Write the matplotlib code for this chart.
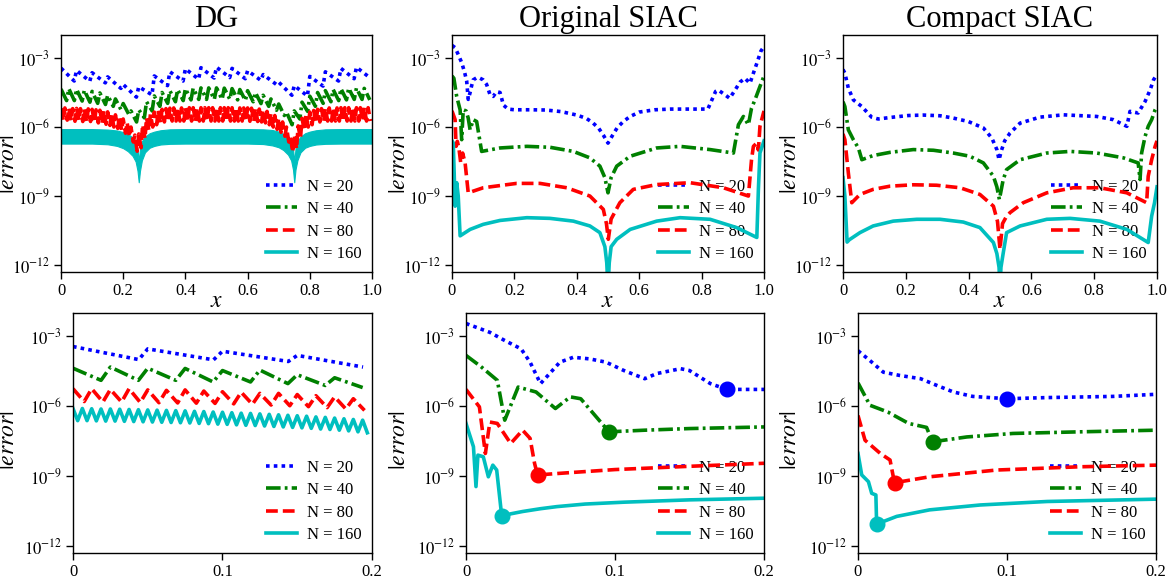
import matplotlib.pyplot as plt
import numpy as np
from matplotlib.ticker import NullLocator

plt.rcParams['font.family'] = ['Liberation Serif', 'DejaVu Serif']
plt.rcParams['mathtext.fontset'] = 'stix'
plt.rcParams['lines.scale_dashes'] = False

titles = ['DG', 'Original SIAC', 'Compact SIAC']
labels = ['N = 20', 'N = 40', 'N = 80', 'N = 160']
colors = ['b', 'g', 'r', 'c']
dashes = [(2.6, 3.0), (10.5, 3.0, 2.0, 3.0), (8.5, 3.6), None]
ytick_vals = [1e-3, 1e-6, 1e-9, 1e-12]
ytick_labels = [r'$10^{-3}$', r'$10^{-6}$', r'$10^{-9}$', r'$10^{-12}$']
top_ticks = [0, 0.2, 0.4, 0.6, 0.8, 1.0]
top_ticklabels = ['0', '0.2', '0.4', '0.6', '0.8', '1.0']
bot_ticks = [0, 0.1, 0.2]
bot_ticklabels = ['0', '0.1', '0.2']

# ---- DG, full domain: per-cell high / low values, log10|error| ----
dg20_hi = [-3.44, -3.54, -3.64, -3.82, -4.15, -4.25, -3.78, -3.6, -3.47, -3.42,
           -3.4, -3.45, -3.55, -3.72, -4.05, -4.2, -3.8, -3.6, -3.45, -3.4]
dg20_lo = [-4.0, -4.01, -4.08, -4.32, -4.7, -4.6, -4.2, -4.0, -3.92, -3.87,
           -3.85, -3.9, -3.97, -4.15, -4.62, -4.65, -4.22, -4.0, -3.9, -3.85]
dg40_hi = [-4.35, -4.33, -4.36, -4.4, -4.45, -4.52, -4.62, -4.78, -4.98, -5.3,
           -5.25, -4.9, -4.65, -4.5, -4.42, -4.37, -4.33, -4.31, -4.3, -4.3,
           -4.3, -4.31, -4.33, -4.37, -4.42, -4.5, -4.62, -4.78, -5.0, -5.35,
           -5.3, -4.92, -4.66, -4.5, -4.42, -4.37, -4.33, -4.31, -4.3, -4.32]
dg40_lo = [-4.85, -4.85, -4.87, -4.92, -4.97, -5.02, -5.1, -5.25, -5.45, -5.78,
           -5.6, -5.3, -5.1, -4.97, -4.9, -4.85, -4.82, -4.8, -4.8, -4.8,
           -4.8, -4.8, -4.82, -4.85, -4.9, -4.98, -5.1, -5.27, -5.5, -5.9,
           -5.65, -5.32, -5.1, -4.97, -4.9, -4.85, -4.82, -4.8, -4.8, -4.82]
dg80_hi = [-5.18, -5.17, -5.18, -5.2, -5.19, -5.2, -5.22, -5.21, -5.23, -5.25,
           -5.27, -5.3, -5.34, -5.4, -5.47, -5.55, -5.65, -5.8, -6.0, -6.35,
           -6.3, -5.9, -5.6, -5.45, -5.35, -5.28, -5.23, -5.2, -5.18, -5.17,
           -5.17, -5.17, -5.16, -5.16, -5.16, -5.16, -5.16, -5.16, -5.16, -5.16,
           -5.16, -5.16, -5.16, -5.16, -5.16, -5.16, -5.17, -5.17, -5.17, -5.18,
           -5.19, -5.22, -5.26, -5.32, -5.4, -5.5, -5.62, -5.78, -6.0, -6.4,
           -6.35, -5.95, -5.62, -5.45, -5.35, -5.28, -5.23, -5.2, -5.18, -5.17,
           -5.17, -5.17, -5.16, -5.16, -5.16, -5.16, -5.16, -5.16, -5.16, -5.16]
dg80_lo = [-5.72, -5.7, -5.73, -5.75, -5.72, -5.76, -5.78, -5.76, -5.8, -5.82,
           -5.85, -5.88, -5.93, -6.0, -6.06, -6.15, -6.27, -6.42, -6.65, -7.05,
           -6.9, -6.5, -6.15, -6.0, -5.9, -5.82, -5.78, -5.75, -5.74, -5.74,
           -5.74, -5.74, -5.74, -5.74, -5.74, -5.74, -5.74, -5.74, -5.74, -5.74,
           -5.74, -5.74, -5.74, -5.74, -5.74, -5.74, -5.74, -5.74, -5.75, -5.75,
           -5.76, -5.78, -5.82, -5.9, -6.0, -6.1, -6.23, -6.4, -6.65, -7.1,
           -6.95, -6.5, -6.15, -6.0, -5.9, -5.82, -5.78, -5.75, -5.74, -5.74,
           -5.74, -5.74, -5.74, -5.74, -5.74, -5.74, -5.74, -5.74, -5.74, -5.74]
# N = 160 is so dense it shows as a band: upper / lower envelope
dg160_x = [0, 0.1, 0.15, 0.18, 0.2, 0.215, 0.23, 0.24, 0.246, 0.25, 0.254, 0.26,
           0.27, 0.285, 0.3, 0.32, 0.35, 0.4, 0.5, 0.6, 0.65, 0.68, 0.7, 0.715,
           0.73, 0.74, 0.746, 0.75, 0.754, 0.76, 0.77, 0.785, 0.8, 0.82, 0.85, 0.9, 1.0]
dg160_hi = [-6.09, -6.09, -6.11, -6.15, -6.22, -6.3, -6.45, -6.65, -6.95, -7.5, -6.95, -6.62,
            -6.42, -6.27, -6.2, -6.14, -6.1, -6.09, -6.09, -6.09, -6.1, -6.13, -6.2, -6.3,
            -6.45, -6.65, -6.95, -7.5, -6.95, -6.62, -6.42, -6.27, -6.2, -6.14, -6.1, -6.09, -6.09]
dg160_lo = [-6.72, -6.72, -6.75, -6.82, -6.92, -7.05, -7.25, -7.5, -7.9, -8.4, -7.9, -7.45,
            -7.1, -6.9, -6.82, -6.76, -6.73, -6.72, -6.72, -6.72, -6.74, -6.8, -6.88, -7.0,
            -7.2, -7.45, -7.85, -8.4, -7.85, -7.45, -7.1, -6.9, -6.82, -6.76, -6.73, -6.72, -6.72]

# ---- DG, zoom [0, 0.2] ----
dgz20_hi = [-3.44, -3.54, -3.64, -3.82]
dgz20_lo = [-4.0, -4.01, -4.08, -4.32]
dgz40_hi = [-4.37, -4.32, -4.37, -4.38, -4.47, -4.45, -4.65, -4.78]
dgz40_lo = [-4.89, -4.89, -4.89, -4.96, -4.96, -5.03, -5.11, -5.2]
dgz80_hi = [-5.25, -5.25, -5.28, -5.25, -5.3, -5.32, -5.3, -5.35,
            -5.38, -5.4, -5.45, -5.45, -5.5, -5.55, -5.6, -5.68]
dgz80_lo = [-5.8, -5.82, -5.82, -5.84, -5.85, -5.86, -5.87, -5.88,
            -5.9, -5.92, -5.95, -5.98, -6.02, -6.06, -6.12, -6.18]
dgz160_hi = [-6.1, -6.1, -6.11, -6.12, -6.12, -6.13, -6.14, -6.15, -6.16, -6.17, -6.18,
             -6.19, -6.2, -6.22, -6.23, -6.25, -6.26, -6.28, -6.3, -6.31, -6.33, -6.35,
             -6.37, -6.39, -6.41, -6.43, -6.46, -6.48, -6.51, -6.54, -6.57, -6.6]
dgz160_lo = [-6.62, -6.62, -6.63, -6.64, -6.64, -6.65, -6.66, -6.67, -6.68, -6.69, -6.7,
             -6.71, -6.72, -6.74, -6.75, -6.77, -6.78, -6.8, -6.82, -6.83, -6.85, -6.87,
             -6.89, -6.91, -6.93, -6.95, -6.98, -7.0, -7.03, -7.06, -7.1, -7.14]

# ---- Original SIAC, full domain ----
ot20_x = [0.0, 0.01, 0.02, 0.031, 0.04, 0.047, 0.052, 0.058, 0.063, 0.068, 0.08, 0.09, 0.1,
          0.111, 0.122, 0.132, 0.143, 0.154, 0.165, 0.18, 0.2, 0.25, 0.3, 0.35, 0.4, 0.43,
          0.45, 0.47, 0.485, 0.5, 0.515, 0.53, 0.55, 0.57, 0.6, 0.65, 0.7, 0.75, 0.8, 0.82,
          0.832, 0.845, 0.853, 0.87, 0.89, 0.907, 0.923, 0.939, 0.955, 0.966, 0.977, 0.99, 1.0]
ot20_y = [-2.45, -2.55, -2.85, -3.2, -3.6, -4.0, -4.8, -4.5, -4.2, -3.95, -3.85, -3.88, -3.95,
          -4.15, -4.6, -4.67, -4.46, -4.5, -5.05, -5.22, -5.25, -5.25, -5.26, -5.33, -5.48, -5.62,
          -5.8, -6.05, -6.35, -6.7, -6.35, -6.02, -5.75, -5.55, -5.35, -5.25, -5.22, -5.22, -5.22,
          -5.22, -4.85, -4.45, -4.39, -4.55, -4.75, -4.4, -4.05, -3.88, -4.1, -3.66, -3.23, -2.7, -2.5]
ot40_x = [0.0, 0.006, 0.015, 0.026, 0.031, 0.036, 0.045, 0.052, 0.058, 0.068, 0.079, 0.095,
          0.154, 0.24, 0.314, 0.389, 0.442, 0.474, 0.49, 0.5, 0.51, 0.528, 0.571, 0.656,
          0.731, 0.827, 0.902, 0.918, 0.934, 0.95, 0.96, 0.971, 0.987, 1.0]
ot40_y = [-3.78, -3.88, -4.67, -5.25, -6.55, -5.25, -5.3, -5.61, -6.12, -5.68, -5.76, -7.06,
          -6.91, -6.84, -6.88, -7.06, -7.34, -7.7, -8.2, -8.86, -8.2, -7.7, -7.27, -6.91,
          -6.84, -6.98, -7.13, -5.9, -5.54, -5.9, -5.18, -4.82, -4.24, -3.78]
ot80_x = [0.0, 0.01, 0.013, 0.017, 0.022, 0.028, 0.034, 0.042, 0.052, 0.1, 0.207, 0.282,
          0.368, 0.442, 0.485, 0.495, 0.501, 0.51, 0.538, 0.581, 0.656, 0.763, 0.87, 0.95,
          0.96, 0.966, 0.977, 0.982, 0.987, 1.0]
ot80_y = [-5.3, -5.68, -6.84, -6.62, -6.9, -7.56, -7.13, -7.56, -8.86, -8.64, -8.45, -8.45,
          -8.64, -9.0, -9.58, -10.2, -10.88, -10.0, -9.29, -8.71, -8.5, -8.42, -8.64, -9.0,
          -7.42, -6.84, -6.69, -7.0, -5.97, -5.3]
ot160_x = [0.0, 0.004, 0.007, 0.01, 0.015, 0.02, 0.026, 0.058, 0.1, 0.154, 0.24, 0.314,
           0.389, 0.442, 0.474, 0.49, 0.496, 0.5, 0.504, 0.51, 0.528, 0.571, 0.656, 0.731,
           0.827, 0.912, 0.977, 0.982, 0.987, 1.0]
ot160_y = [-6.6, -6.69, -8.0, -9.44, -8.42, -9.0, -10.73, -10.45, -10.23, -10.06, -9.94, -9.97,
           -10.09, -10.3, -10.59, -11.2, -11.9, -13.0, -11.9, -11.2, -10.88, -10.45, -10.09, -9.94,
           -10.01, -10.37, -10.8, -8.71, -7.13, -6.6]

# ---- Original SIAC, zoom [0, 0.2] ----
oz20_x = [0.0, 0.016, 0.026, 0.037, 0.043, 0.05, 0.055, 0.063, 0.072, 0.083, 0.094,
          0.106, 0.12, 0.128, 0.144, 0.15, 0.164, 0.175, 0.2]
oz20_y = [-2.45, -2.83, -3.18, -3.54, -4.11, -5.03, -4.68, -4.11, -3.9, -3.97, -4.11,
          -4.47, -4.82, -4.6, -4.39, -4.47, -5.03, -5.28, -5.28]
oz40_x = [0.0, 0.01, 0.021, 0.026, 0.035, 0.047, 0.06, 0.07, 0.077, 0.096, 0.12, 0.15, 0.2]
oz40_y = [-3.82, -4.3, -4.89, -6.6, -5.18, -5.39, -6.1, -5.6, -5.68, -7.1, -7.03, -6.96, -6.89]
oz80_x = [0.0, 0.009, 0.013, 0.016, 0.021, 0.03, 0.038, 0.043, 0.046, 0.048, 0.07, 0.1, 0.15, 0.2]
oz80_y = [-5.28, -6.03, -8.03, -6.68, -6.74, -7.6, -7.03, -7.38, -8.45, -8.95, -8.85, -8.72,
          -8.58, -8.45]
oz160_x = [0.0, 0.005, 0.0067, 0.008, 0.0116, 0.015, 0.018, 0.0206, 0.024, 0.03, 0.038,
           0.05, 0.061, 0.08, 0.106, 0.15, 0.2]
oz160_y = [-6.74, -7.74, -9.45, -8.1, -8.17, -9.03, -8.53, -8.74, -10.73, -10.62, -10.52,
           -10.4, -10.31, -10.2, -10.12, -10.02, -9.95]
oz_marks = [17, 9, 9, 8]

# ---- Compact SIAC, full domain ----
ct20_x = [0.0, 0.006, 0.017, 0.033, 0.06, 0.091, 0.112, 0.16, 0.208, 0.256, 0.309, 0.351,
          0.399, 0.447, 0.474, 0.49, 0.497, 0.505, 0.515, 0.532, 0.564, 0.627, 0.702, 0.808,
          0.861, 0.904, 0.914, 0.94, 0.962, 0.978, 0.989, 1.0]
ct20_y = [-3.5, -3.66, -4.31, -4.82, -5.11, -5.57, -5.65, -5.57, -5.5, -5.48, -5.51, -5.61,
          -5.76, -6.04, -6.48, -6.98, -7.42, -7.0, -6.6, -6.26, -5.83, -5.57, -5.47, -5.54,
          -5.68, -5.97, -5.32, -5.39, -4.89, -4.39, -3.95, -3.7]
ct40_x = [0.0, 0.006, 0.017, 0.033, 0.049, 0.06, 0.096, 0.15, 0.224, 0.288, 0.351, 0.404,
          0.447, 0.479, 0.49, 0.498, 0.51, 0.521, 0.564, 0.649, 0.723, 0.808, 0.893, 0.94,
          0.946, 0.951, 0.962, 0.972, 0.983, 0.994, 1.0]
ct40_y = [-4.9, -5.11, -6.12, -6.55, -6.91, -7.42, -7.24, -7.1, -6.98, -7.01, -7.13, -7.27,
          -7.56, -8.14, -8.6, -9.15, -8.3, -7.85, -7.42, -7.13, -7.06, -7.13, -7.34, -7.56,
          -8.28, -7.13, -6.41, -5.97, -5.68, -5.25, -5.1]
ct80_x = [0.0, 0.006, 0.017, 0.028, 0.054, 0.096, 0.15, 0.224, 0.298, 0.373, 0.436, 0.479,
          0.492, 0.5, 0.508, 0.52, 0.532, 0.574, 0.649, 0.733, 0.818, 0.904, 0.967, 0.972,
          0.983, 0.994, 1.0]
ct80_y = [-6.3, -6.55, -7.99, -9.29, -8.93, -8.71, -8.57, -8.51, -8.53, -8.64, -8.93, -9.44,
          -10.1, -11.31, -10.2, -9.9, -9.72, -9.29, -8.86, -8.64, -8.64, -8.86, -9.29, -8.14,
          -7.42, -6.84, -6.6]
ct160_x = [0.0, 0.006, 0.013, 0.02, 0.054, 0.096, 0.16, 0.235, 0.309, 0.383, 0.436, 0.479,
           0.49, 0.497, 0.5, 0.503, 0.51, 0.521, 0.564, 0.649, 0.723, 0.818, 0.904, 0.972,
           0.983, 0.992, 1.0]
ct160_y = [-8.2, -9.0, -11.0, -10.9, -10.59, -10.3, -10.09, -10.01, -10.01, -10.13, -10.37,
           -11.02, -11.5, -12.1, -13.0, -12.1, -11.5, -10.59, -10.3, -10.01, -9.97, -10.09,
           -10.45, -11.02, -9.87, -9.3, -8.6]

# ---- Compact SIAC, zoom [0, 0.2] ----
cz20_x = [0.0, 0.008, 0.017, 0.028, 0.042, 0.053, 0.064, 0.077, 0.1, 0.127, 0.171, 0.2]
cz20_y = [-3.62, -4.04, -4.54, -4.68, -4.82, -5.11, -5.39, -5.58, -5.68, -5.63, -5.58, -5.49]
cz40_x = [0.0, 0.008, 0.02, 0.034, 0.046, 0.05, 0.073, 0.104, 0.149, 0.2]
cz40_y = [-5.0, -5.96, -6.25, -6.74, -6.91, -7.53, -7.32, -7.17, -7.1, -7.03]
cz80_x = [0.0, 0.0047, 0.015, 0.0215, 0.0237, 0.025, 0.048, 0.093, 0.149, 0.2]
cz80_y = [-6.4, -7.46, -8.03, -8.31, -9.03, -9.28, -9.03, -8.74, -8.6, -8.53]
cz160_x = [0.0, 0.0025, 0.007, 0.0092, 0.012, 0.0125, 0.026, 0.048, 0.082, 0.127, 0.2]
cz160_y = [-8.03, -8.95, -9.24, -9.74, -9.81, -11.06, -10.73, -10.45, -10.24, -10.09, -9.99]
cz_marks = [8, 5, 5, 5]

LW = 2.6
W, H = 1173.0, 587.0
top_boxes = [(61, 35, 311, 237), (452, 35, 312, 237), (843, 35, 314, 237)]
bot_boxes = [(73, 313, 299, 240), (466, 313, 298, 240), (858, 313, 298, 240)]
ylabel_px = [19, 410, 801]

fig = plt.figure(figsize=(11.73, 5.87), dpi=100, facecolor='white')


def make_axes(box):
    l, t, w, h = box
    return fig.add_axes([l / W, 1 - (t + h) / H, w / W, h / H])


def draw(ax, x, logy, i, mark=None):
    y = 10.0 ** np.asarray(logy, dtype=float)
    line, = ax.plot(x, y, color=colors[i], lw=LW, label=labels[i])
    if dashes[i] is not None:
        line.set_dashes(dashes[i])
    if mark is not None:
        ax.plot(x[mark], y[mark], 'o', color=colors[i], ms=10.5, mec=colors[i])


def draw_cells(ax, hi, lo, x_end, frac, i):
    # one high and one low sample per DG cell
    n = len(hi)
    h = x_end / n
    x = np.repeat(np.arange(n) * h, 2)
    x[1::2] += frac * h
    y = np.empty(2 * n)
    y[0::2] = hi
    y[1::2] = lo
    draw(ax, x, y, i)


def style(ax, box, col, ticks, ticklabels, xmax, label_y, title=None, xlabel=False):
    ax.set_yscale('log')
    ax.set_ylim(5e-13, 1e-2)
    ax.set_xlim(0, xmax)
    ax.set_yticks(ytick_vals)
    ax.set_yticklabels(ytick_labels)
    ax.yaxis.set_minor_locator(NullLocator())
    ax.set_xticks(ticks)
    ax.set_xticklabels(ticklabels)
    ax.tick_params(direction='out', length=5, width=1, labelsize=12,
                   top=False, right=False, pad=3)
    for s in ax.spines.values():
        s.set_linewidth(1.0)
    ax.set_ylabel(r'$|error|$', fontsize=17)
    ax.yaxis.set_label_coords((ylabel_px[col] - box[0]) / box[2], label_y)
    if title:
        ax.set_title(title, fontsize=22, pad=6)
    if xlabel:
        ax.set_xlabel(r'$x$', fontsize=17, labelpad=-6)
    leg = ax.legend(loc='lower right', frameon=False, fontsize=12,
                    labelspacing=0.38, handlelength=1.9, handletextpad=0.6,
                    borderaxespad=0.2)
    leg.set_zorder(1)


# top row
ax = make_axes(top_boxes[0])
draw_cells(ax, dg20_hi, dg20_lo, 1.0, 0.85, 0)
draw_cells(ax, dg40_hi, dg40_lo, 1.0, 0.72, 1)
draw_cells(ax, dg80_hi, dg80_lo, 1.0, 0.6, 2)
ax.fill_between(dg160_x, 10.0 ** np.array(dg160_lo), 10.0 ** np.array(dg160_hi),
                color='c', lw=0.8)
ax.plot([], [], color='c', lw=LW, label=labels[3])
style(ax, top_boxes[0], 0, top_ticks, top_ticklabels, 1.0, 0.455, titles[0], True)

ax = make_axes(top_boxes[1])
for i, (x, y) in enumerate([(ot20_x, ot20_y), (ot40_x, ot40_y), (ot80_x, ot80_y), (ot160_x, ot160_y)]):
    draw(ax, x, y, i)
style(ax, top_boxes[1], 1, top_ticks, top_ticklabels, 1.0, 0.455, titles[1], True)

ax = make_axes(top_boxes[2])
for i, (x, y) in enumerate([(ct20_x, ct20_y), (ct40_x, ct40_y), (ct80_x, ct80_y), (ct160_x, ct160_y)]):
    draw(ax, x, y, i)
style(ax, top_boxes[2], 2, top_ticks, top_ticklabels, 1.0, 0.455, titles[2], True)

# bottom row: zoom near the left boundary
ax = make_axes(bot_boxes[0])
draw_cells(ax, dgz20_hi, dgz20_lo, 0.2, 0.88, 0)
draw_cells(ax, dgz40_hi, dgz40_lo, 0.2, 0.75, 1)
draw_cells(ax, dgz80_hi, dgz80_lo, 0.2, 0.6, 2)
draw_cells(ax, dgz160_hi, dgz160_lo, 0.2, 0.5, 3)
style(ax, bot_boxes[0], 0, bot_ticks, bot_ticklabels, 0.2, 0.47)

ax = make_axes(bot_boxes[1])
for i, (x, y) in enumerate([(oz20_x, oz20_y), (oz40_x, oz40_y), (oz80_x, oz80_y), (oz160_x, oz160_y)]):
    draw(ax, x, y, i, oz_marks[i])
style(ax, bot_boxes[1], 1, bot_ticks, bot_ticklabels, 0.2, 0.47)

ax = make_axes(bot_boxes[2])
for i, (x, y) in enumerate([(cz20_x, cz20_y), (cz40_x, cz40_y), (cz80_x, cz80_y), (cz160_x, cz160_y)]):
    draw(ax, x, y, i, cz_marks[i])
style(ax, bot_boxes[2], 2, bot_ticks, bot_ticklabels, 0.2, 0.47)

fig.savefig('out.png', dpi=100, facecolor='white')
